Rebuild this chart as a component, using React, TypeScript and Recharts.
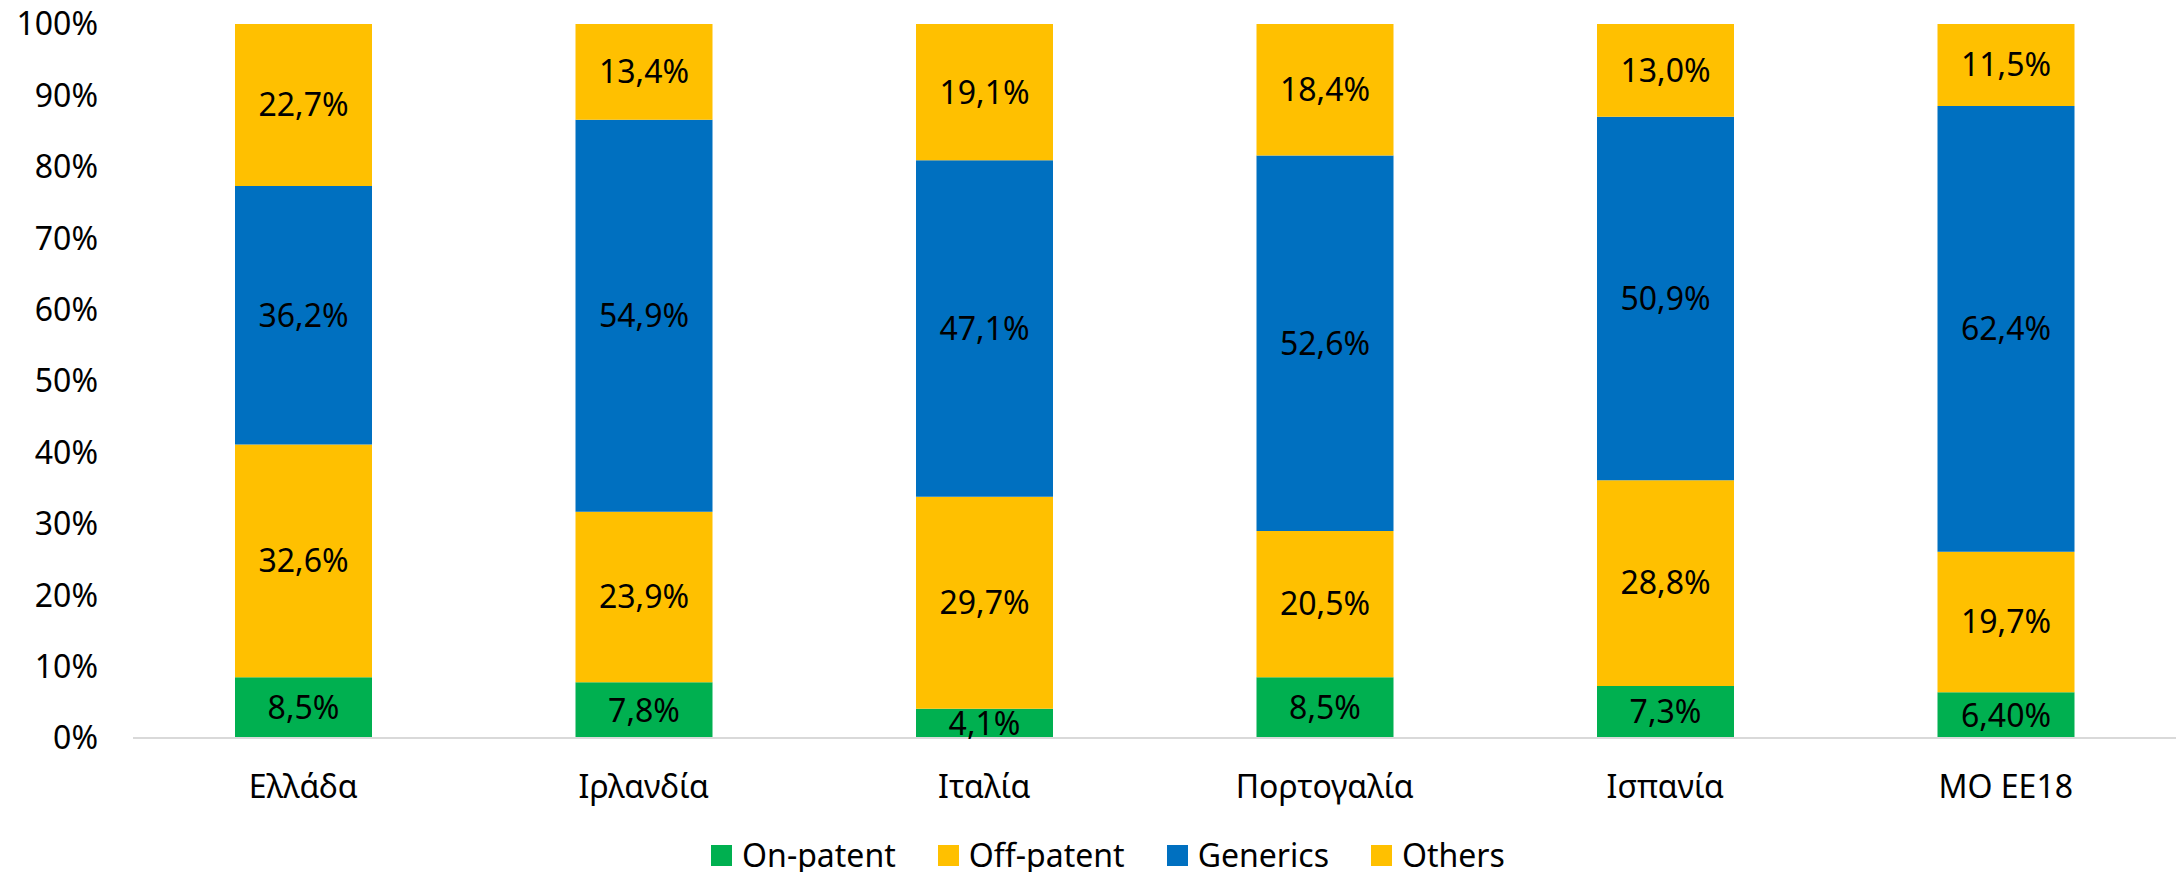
import React from "react";
import { BarChart, Bar, XAxis, YAxis, Legend, LabelList } from "recharts";

const categories = ["Ελλάδα", "Ιρλανδία", "Ιταλία", "Πορτογαλία", "Ισπανία", "MO EE18"];
const seriesNames = ["On-patent", "Off-patent", "Generics", "Others"];
const onPatent = [8.5, 7.8, 4.1, 8.5, 7.3, 6.4];
const onPatentLabels = ["8,5%", "7,8%", "4,1%", "8,5%", "7,3%", "6,40%"];
const offPatent = [32.6, 23.9, 29.7, 20.5, 28.8, 19.7];
const generics = [36.2, 54.9, 47.1, 52.6, 50.9, 62.4];
const others = [22.7, 13.4, 19.1, 18.4, 13.0, 11.5];
const yTicks = [0, 10, 20, 30, 40, 50, 60, 70, 80, 90, 100];

const GREEN = "#00B050";
const GOLD = "#FFC000";
const BLUE = "#0070C0";
const FONT = "'Noto Sans', 'Open Sans', sans-serif";

const data = categories.map((name, i) => ({
  name,
  onPatent: onPatent[i],
  onPatentLabel: onPatentLabels[i],
  offPatent: offPatent[i],
  generics: generics[i],
  others: others[i],
}));

const fmt = (v: any) => `${Number(v).toFixed(1).replace(".", ",")}%`;

const labelStyle = { fontSize: 32, fill: "#000", fontFamily: FONT };

const LegendContent = (props: any) => {
  const payload = [...(props.payload || [])].sort(
    (a: any, b: any) => seriesNames.indexOf(a.value) - seriesNames.indexOf(b.value)
  );
  return (
    <div
      style={{
        display: "flex",
        justifyContent: "center",
        alignItems: "center",
        height: 40,
        paddingLeft: 38,
        fontFamily: FONT,
        fontSize: 32,
        color: "#000",
      }}
    >
      {payload.map((p: any, i: number) => (
        <div
          key={i}
          style={{
            display: "flex",
            alignItems: "center",
            marginRight: i < payload.length - 1 ? 42 : 0,
          }}
        >
          <div style={{ width: 21, height: 21, background: p.color, marginRight: 10 }} />
          <span style={{ lineHeight: "40px", whiteSpace: "nowrap" }}>{p.value}</span>
        </div>
      ))}
    </div>
  );
};

export default function App() {
  return (
    <div style={{ position: "absolute", left: 0, top: 0, width: 2178, height: 872, background: "#fff" }}>
      <BarChart
        width={2178}
        height={872}
        data={data}
        margin={{ top: 24, right: 2, bottom: 0, left: 0 }}
        style={{ fontFamily: FONT }}
      >
        <XAxis
          dataKey="name"
          axisLine={{ stroke: "#D9D9D9", strokeWidth: 2 }}
          tickLine={false}
          tickSize={0}
          tickMargin={37}
          height={94}
          interval={0}
          tick={{ fontSize: 32, fill: "#000", fontFamily: FONT }}
        />
        <YAxis
          type="number"
          domain={[0, 100]}
          ticks={yTicks}
          interval={0}
          tickFormatter={(v: any) => `${v}%`}
          axisLine={false}
          tickLine={false}
          tickSize={0}
          tickMargin={35}
          width={133}
          tick={{ fontSize: 32, fill: "#000", fontFamily: FONT }}
        />
        <Legend
          verticalAlign="bottom"
          height={40}
          content={<LegendContent />}
          wrapperStyle={{ position: "absolute", top: 835, left: 0, width: 2178 }}
        />
        <Bar dataKey="onPatent" name="On-patent" stackId="a" fill={GREEN} barSize={137} isAnimationActive={false}>
          <LabelList dataKey="onPatentLabel" position="center" style={labelStyle} />
        </Bar>
        <Bar dataKey="offPatent" name="Off-patent" stackId="a" fill={GOLD} barSize={137} isAnimationActive={false}>
          <LabelList dataKey="offPatent" position="center" formatter={fmt} style={labelStyle} />
        </Bar>
        <Bar dataKey="generics" name="Generics" stackId="a" fill={BLUE} barSize={137} isAnimationActive={false}>
          <LabelList dataKey="generics" position="center" formatter={fmt} style={labelStyle} />
        </Bar>
        <Bar dataKey="others" name="Others" stackId="a" fill={GOLD} barSize={137} isAnimationActive={false}>
          <LabelList dataKey="others" position="center" formatter={fmt} style={labelStyle} />
        </Bar>
      </BarChart>
    </div>
  );
}
